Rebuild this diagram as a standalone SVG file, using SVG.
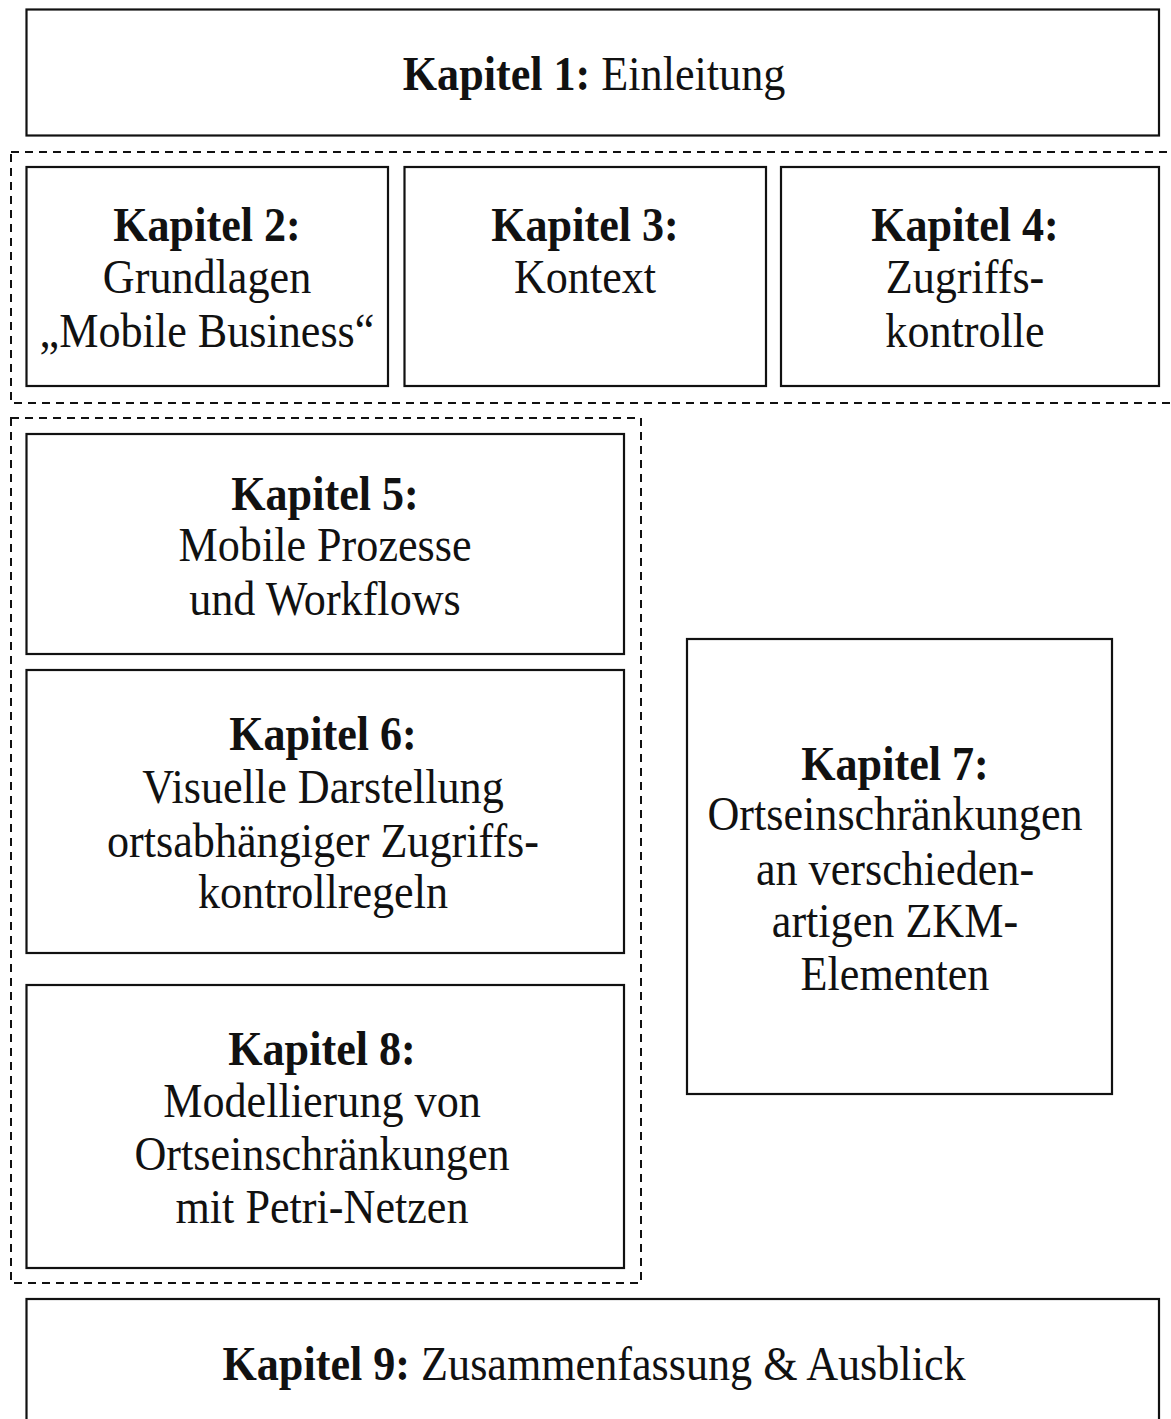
<svg xmlns="http://www.w3.org/2000/svg" width="1171" height="1419" viewBox="0 0 1171 1419">
  <style>
    .box { fill: #ffffff; stroke: #111111; stroke-width: 2.2; }
    .grp { fill: none; stroke: #111111; stroke-width: 2; stroke-dasharray: 8 6; }
    text { font-family: "Liberation Serif", "Times New Roman", serif; font-size: 48px; fill: #111111; text-anchor: middle; }
    .b { font-weight: bold; }
  </style>
  <rect width="1171" height="1419" fill="#ffffff"/>

  <!-- chapter groupings (dashed frames) -->
  <g id="groups">
    <rect class="grp" x="11" y="152" width="1175" height="251"/>
    <rect class="grp" x="11" y="418" width="630" height="865"/>
  </g>

  <g id="kapitel1">
    <rect class="box" x="26.5" y="9.5" width="1132.5" height="126"/>
    <g transform="translate(594,0) scale(0.92,1)">
      <text x="0" y="90"><tspan class="b">Kapitel 1:</tspan> Einleitung</text>
    </g>
  </g>

  <g id="kapitel2">
    <rect class="box" x="26.5" y="167" width="361.5" height="219"/>
    <g transform="translate(207,0) scale(0.92,1)">
      <text x="0" y="241" class="b">Kapitel 2:</text>
      <text x="0" y="293">Grundlagen</text>
      <text x="0" y="347">„Mobile Business“</text>
    </g>
  </g>

  <g id="kapitel3">
    <rect class="box" x="404.5" y="167" width="361.5" height="219"/>
    <g transform="translate(585,0) scale(0.92,1)">
      <text x="0" y="241" class="b">Kapitel 3:</text>
      <text x="0" y="293">Kontext</text>
    </g>
  </g>

  <g id="kapitel4">
    <rect class="box" x="781" y="167" width="378" height="219"/>
    <g transform="translate(965,0) scale(0.92,1)">
      <text x="0" y="241" class="b">Kapitel 4:</text>
      <text x="0" y="293">Zugriffs-</text>
      <text x="0" y="347">kontrolle</text>
    </g>
  </g>

  <g id="kapitel5">
    <rect class="box" x="26.5" y="434" width="597.5" height="220"/>
    <g transform="translate(325,0) scale(0.92,1)">
      <text x="0" y="510" class="b">Kapitel 5:</text>
      <text x="0" y="561">Mobile Prozesse</text>
      <text x="0" y="615">und Workflows</text>
    </g>
  </g>

  <g id="kapitel6">
    <rect class="box" x="26.5" y="670" width="597.5" height="283"/>
    <g transform="translate(323,0) scale(0.92,1)">
      <text x="0" y="750" class="b">Kapitel 6:</text>
      <text x="0" y="803">Visuelle Darstellung</text>
      <text x="0" y="857">ortsabhängiger Zugriffs-</text>
      <text x="0" y="908">kontrollregeln</text>
    </g>
  </g>

  <g id="kapitel7">
    <rect class="box" x="687" y="639" width="425" height="455"/>
    <g transform="translate(895,0) scale(0.92,1)">
      <text x="0" y="780" class="b">Kapitel 7:</text>
      <text x="0" y="830">Ortseinschränkungen</text>
      <text x="0" y="885">an verschieden-</text>
      <text x="0" y="937">artigen ZKM-</text>
      <text x="0" y="990">Elementen</text>
    </g>
  </g>

  <g id="kapitel8">
    <rect class="box" x="26.5" y="985" width="597.5" height="283"/>
    <g transform="translate(322,0) scale(0.92,1)">
      <text x="0" y="1065" class="b">Kapitel 8:</text>
      <text x="0" y="1117">Modellierung von</text>
      <text x="0" y="1170">Ortseinschränkungen</text>
      <text x="0" y="1223">mit Petri-Netzen</text>
    </g>
  </g>

  <g id="kapitel9">
    <rect class="box" x="26.5" y="1299" width="1132.5" height="140"/>
    <g transform="translate(594,0) scale(0.92,1)">
      <text x="0" y="1380"><tspan class="b">Kapitel 9:</tspan> Zusammenfassung &amp; Ausblick</text>
    </g>
  </g>

  <!-- no connectors in this chart -->
  <g id="connectors"/>
</svg>
